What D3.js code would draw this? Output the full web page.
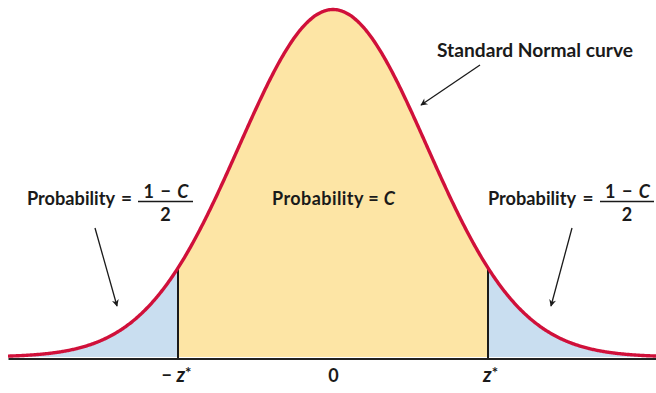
<!DOCTYPE html>
<html><head><meta charset="utf-8">
<script src="https://cdn.jsdelivr.net/npm/d3@7"></script>
<style>
html,body{margin:0;padding:0;background:#fff;}
svg{display:block;}
text{font-family:Lato,"Open Sans",sans-serif;font-weight:700;fill:#1a1a1a;}
</style></head>
<body>
<svg id="chart" width="656" height="393"></svg>
<script>
// ---- data ----
const mean = 0;
const sd = 1;
const zStar = 1.65;
const zDomain = [-3.46, 3.46];
const tickValues = [-zStar, 0, zStar];
const tickLabels = ["− z", "0", "z"];
const curveLabel = "Standard Normal curve";
const centerLabel = "Probability = ";
const tailLabel = "Probability";
const tailNumerator = "1 − C";
const tailDenominator = "2";

// ---- drawing ----
const W = 656, H = 393;
const svg = d3.select("#chart");
const pdf = z => Math.exp(-0.5 * ((z - mean) / sd) ** 2) / (sd * Math.sqrt(2 * Math.PI));

const x = d3.scaleLinear().domain(zDomain).range([8, 658]);
const y = d3.scaleLinear().domain([0, pdf(0)]).range([357, 9.5]);

const zs = d3.range(zDomain[0], zDomain[1] + 1e-9, 0.01);
const line = d3.line().x(d => x(d)).y(d => y(pdf(d))).curve(d3.curveBasis);
const area = d3.area().x(d => x(d)).y0(y(0)).y1(d => y(pdf(d)));

const leftTail = zs.filter(z => z <= -zStar).concat([-zStar]);
const rightTail = [zStar].concat(zs.filter(z => z >= zStar));
const middle = [-zStar].concat(zs.filter(z => z > -zStar && z < zStar)).concat([zStar]);

svg.append("path").attr("d", area(leftTail)).attr("fill", "#c9def0");
svg.append("path").attr("d", area(rightTail)).attr("fill", "#c9def0");
svg.append("path").attr("d", area(middle)).attr("fill", "#fde5a5");

// axis (baseline + tick labels)
const axis = d3.axisBottom(x)
  .tickValues(tickValues)
  .tickSize(0)
  .tickSizeOuter(0)
  .tickPadding(11)
  .tickFormat((d, i) => tickLabels[i]);
const gAxis = svg.append("g").attr("transform", "translate(0,358.5)").call(axis);
gAxis.select(".domain").attr("stroke", "#222").attr("stroke-width", 2);
gAxis.selectAll(".tick text")
  .attr("font-family", "Lato, 'Open Sans', sans-serif")
  .attr("font-size", 18)
  .attr("font-weight", 700)
  .attr("fill", "#1a1a1a")
  .each(function(d, i) {
    if (i === 1) return;
    const t = d3.select(this);
    t.text(null);
    if (i === 0) {
      t.append("tspan").text("− ");
    }
    t.append("tspan").attr("font-style", "italic").attr("font-size", 20).text("z");
    t.append("tspan").attr("dy", "-0.3em").attr("font-size", 15).text("*");
  });
gAxis.selectAll(".tick text").attr("dx", (d, i) => i === 0 ? -2 : (i === 2 ? 2 : 0));

// vertical lines at ±z*
[-zStar, zStar].forEach(z => {
  svg.append("line")
    .attr("x1", x(z)).attr("x2", x(z))
    .attr("y1", y(0) + 1).attr("y2", y(pdf(z)))
    .attr("stroke", "#1a1a1a").attr("stroke-width", 2);
});

// the curve
svg.append("path").attr("d", line(zs))
  .attr("fill", "none").attr("stroke", "#d0103a").attr("stroke-width", 3.4);

// arrow marker
const defs = svg.append("defs");
defs.append("marker").attr("id", "ah")
  .attr("viewBox", "0 0 10 10").attr("refX", 9).attr("refY", 5)
  .attr("markerWidth", 11).attr("markerHeight", 7).attr("markerUnits", "userSpaceOnUse")
  .attr("orient", "auto")
  .append("path").attr("d", "M0,0 L10,5 L0,10 L3,5 Z").attr("fill", "#1a1a1a");

const arrows = [
  [480, 65, 421, 105],
  [95, 228, 117, 306],
  [572, 228, 551, 306]
];
arrows.forEach(a => {
  svg.append("line").attr("x1", a[0]).attr("y1", a[1]).attr("x2", a[2]).attr("y2", a[3])
    .attr("stroke", "#1a1a1a").attr("stroke-width", 1.3).attr("marker-end", "url(#ah)");
});

// labels
svg.append("text").attr("x", 437).attr("y", 57).attr("font-size", 18)
  .attr("textLength", 196).attr("lengthAdjust", "spacingAndGlyphs").text(curveLabel);

const ctr = svg.append("text").attr("x", 272).attr("y", 205).attr("font-size", 18)
  .attr("textLength", 123).attr("lengthAdjust", "spacing");
ctr.append("tspan").text(centerLabel);
ctr.append("tspan").attr("font-style", "italic").text("C");

function tailText(px, eqX, fx0, fx1) {
  svg.append("text").attr("x", px).attr("y", 205).attr("font-size", 18)
    .attr("textLength", 88).attr("lengthAdjust", "spacingAndGlyphs").text(tailLabel);
  svg.append("text").attr("x", eqX).attr("y", 205).attr("font-size", 19)
    .attr("text-anchor", "middle").text("=");
  svg.append("line").attr("x1", fx0).attr("x2", fx1).attr("y1", 201.5).attr("y2", 201.5)
    .attr("stroke", "#1a1a1a").attr("stroke-width", 1.5);
  const num = svg.append("text").attr("x", (fx0 + fx1) / 2 + 1).attr("y", 197.5)
    .attr("font-size", 18).attr("text-anchor", "middle").attr("letter-spacing", 1);
  num.append("tspan").text("1 − ");
  num.append("tspan").attr("font-style", "italic").text("C");
  svg.append("text").attr("x", (fx0 + fx1) / 2).attr("y", 221).attr("font-size", 18)
    .attr("text-anchor", "middle").text(tailDenominator);
}
tailText(27, 126.5, 138, 193);
tailText(488, 588, 600, 654);
</script>
</body></html>
